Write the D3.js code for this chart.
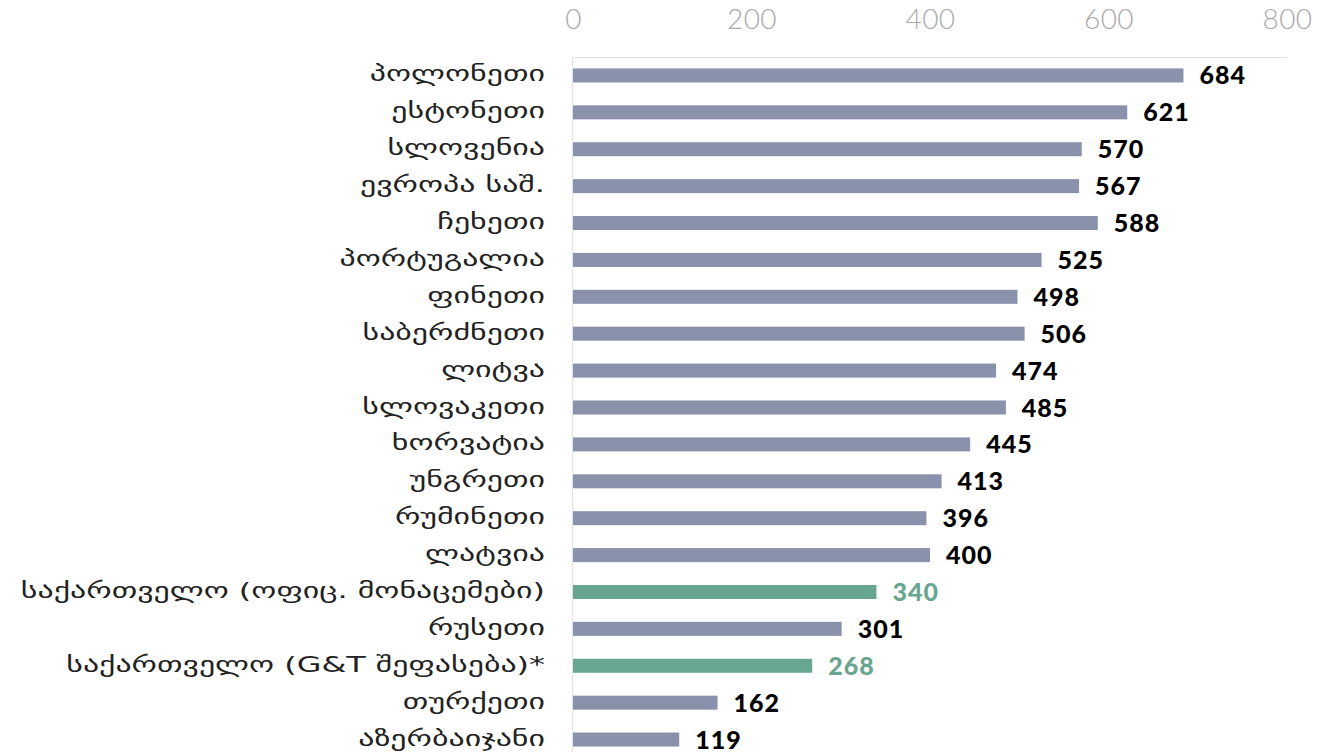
<!DOCTYPE html>
<html><head><meta charset="utf-8">
<script src="https://cdn.jsdelivr.net/npm/d3@7"></script>
<style>
html,body{margin:0;padding:0;background:#fff;}
</style></head>
<body><svg id="chart" width="1340" height="752"></svg>
<script>
const categories = ["პოლონეთი","ესტონეთი","სლოვენია","ევროპა საშ.","ჩეხეთი","პორტუგალია","ფინეთი","საბერძნეთი","ლიტვა","სლოვაკეთი","ხორვატია","უნგრეთი","რუმინეთი","ლატვია","საქართველო (ოფიც. მონაცემები)","რუსეთი","საქართველო (G&T შეფასება)*","თურქეთი","აზერბაიჯანი"];
const values = [684,621,570,567,588,525,498,506,474,485,445,413,396,400,340,301,268,162,119];
const highlighted = ["საქართველო (ოფიც. მონაცემები)","საქართველო (G&T შეფასება)*"];
const tickValues = [0,200,400,600,800];

(function(){
const data = categories.map((c,i)=>({c, v: values[i], hi: highlighted.includes(c)}));
const svg = d3.select("#chart");
const mLeft = 573, mRight = 1287, mTop = 57, mBottom = 758;
const x = d3.scaleLinear().domain([0,800]).range([mLeft,mRight]);
const y = d3.scaleBand().domain(categories).range([mTop,mBottom]).paddingInner(0.62).paddingOuter(0.31);

const grey = "#8a91ab", green = "#69a690";

svg.append("line").attr("x1",mLeft).attr("x2",mRight).attr("y1",mTop+0.5).attr("y2",mTop+0.5).attr("stroke","#e3e3e3");
svg.append("line").attr("x1",mLeft-0.5).attr("x2",mLeft-0.5).attr("y1",mTop).attr("y2",mBottom).attr("stroke","#e3e3e3");

const ax = svg.append("g").attr("transform",`translate(0,29)`)
  .call(d3.axisTop(x).tickValues(tickValues).tickSize(0).tickPadding(0));
ax.select(".domain").remove();
ax.selectAll("text").attr("font-family","Lato, sans-serif").attr("font-weight",300)
  .attr("font-size",28).attr("letter-spacing",0.5).attr("fill","#a9a9a9").attr("dy","0");

svg.append("g").selectAll("rect").data(data).join("rect")
  .attr("x",x(0)).attr("y",d=>y(d.c)).attr("width",d=>x(d.v)-x(0)).attr("height",y.bandwidth())
  .attr("fill",d=>d.hi?green:grey);

svg.append("g").selectAll("text").data(data).join("text")
  .attr("transform",d=>`translate(545,${y(d.c)+y.bandwidth()/2+6}) scale(1.45,1)`)
  .attr("text-anchor","end").attr("font-family","'DejaVu Sans', sans-serif")
  .attr("font-size",22).attr("fill","#222").text(d=>d.c);

svg.append("g").selectAll("text").data(data).join("text")
  .attr("x",d=>x(d.v)+16).attr("y",d=>y(d.c)+y.bandwidth()/2+9)
  .attr("font-family","Lato, sans-serif").attr("font-weight",900).attr("letter-spacing",1)
  .attr("font-size",25).attr("fill",d=>d.hi?green:"#000").text(d=>d.v);
})();
</script></body></html>
